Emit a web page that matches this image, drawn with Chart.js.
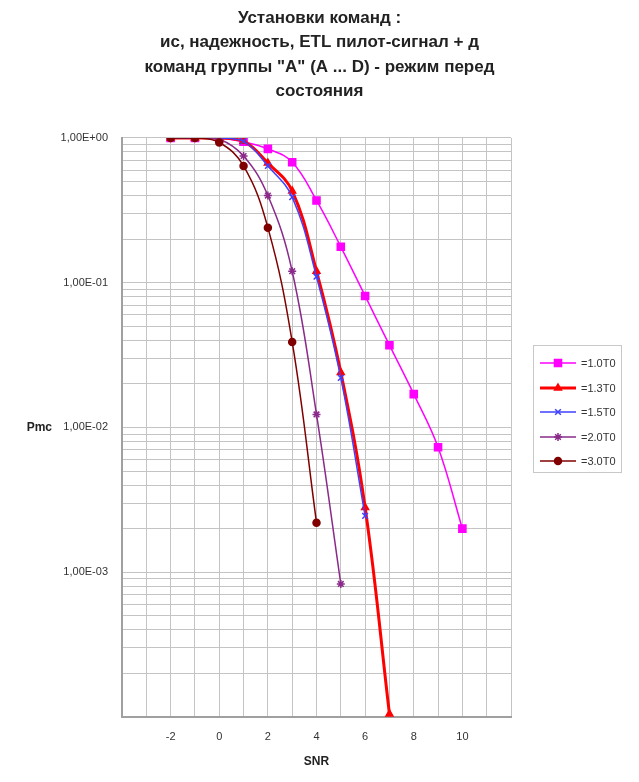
<!DOCTYPE html>
<html>
<head>
<meta charset="utf-8">
<script src="https://cdn.jsdelivr.net/npm/chart.js@4/dist/chart.umd.min.js"></script>
<style>
  body { margin: 0; background: #fff; }
  #wrap { position: relative; width: 639px; height: 782px; }
  #legend {
    position: absolute; left: 533px; top: 345px; width: 89px; height: 128px;
    border: 1px solid #c8c8c8; box-sizing: border-box;
    font: 11px "Liberation Sans", Arial, sans-serif; color: #333;
  }
  #legend .row { position: absolute; left: 5px; height: 12px; display: flex; align-items: center; }
  #legend canvas { margin-right: 4px; }
</style>
</head>
<body>
<div id="wrap">
  <canvas id="chart" width="639" height="782"></canvas>
  <div id="legend"></div>
</div>
<script>
// SNR values (x axis)
const snr = [-2, -1, 0, 1, 2, 3, 4, 5, 6, 7, 8, 9, 10]

// Pmc for each threshold
const pmc10 = [1, 1, 1, 0.94, 0.84, 0.68, 0.37, 0.177, 0.081, 0.037, 0.017, 0.0073, 0.0020]
const pmc13 = [1, 1, 1, 0.95, 0.67, 0.43, 0.12, 0.024, 0.0028, 0.000105]
const pmc15 = [1, 1, 1, 0.95, 0.64, 0.39, 0.11, 0.022, 0.00245]
const pmc20 = [1, 1, 0.98, 0.75, 0.40, 0.12, 0.0123, 0.00083]
const pmc30 = [1, 1, 0.93, 0.64, 0.24, 0.039, 0.0022]

const seriesNames = ["=1.0T0", "=1.3T0", "=1.5T0", "=2.0T0", "=3.0T0"]

// the title is wider than the chart in the original, only the middle shows
const titleLines = [
  "Установки команд :",
  "ис, надежность, ETL пилот-сигнал + д",
  "команд группы \"A\" (A ... D) - режим перед",
  "состояния"
]

// axis ticks
const xLabelled = [-2, 0, 2, 4, 6, 8, 10]
const yDecades = [1, 0.1, 0.01, 0.001]
const yDecadeLabels = ["1,00E+00", "1,00E-01", "1,00E-02", "1,00E-03"]

const FONT = "'Liberation Sans', Arial, sans-serif"

const styles = [
  { color: "#ff00ff", width: 1.5, pointStyle: "rect", radius: 5 },
  { color: "#ff0000", width: 3, pointStyle: "triangle", radius: 4 },
  { color: "#4040ff", width: 1.5, pointStyle: "crossRot", radius: 4 },
  { color: "#8a2a8a", width: 1.5, pointStyle: "star", radius: 4 },
  { color: "#800000", width: 1.5, pointStyle: "circle", radius: 3.5 }
]

const toPoints = ys => ys.map((y, i) => ({ x: snr[i], y }))

// later series on top, like Excel draws them
const datasets = [pmc10, pmc13, pmc15, pmc20, pmc30].map((ys, i) => ({
  label: seriesNames[i],
  data: toPoints(ys),
  order: 4 - i,
  borderColor: styles[i].color,
  backgroundColor: styles[i].color,
  borderWidth: styles[i].width,
  pointStyle: styles[i].pointStyle,
  pointRadius: styles[i].radius,
  pointBorderWidth: 1.5,
  tension: 0.4
}))

// "Pmc" label sits horizontally, left of the 1,00E-02 tick
const sideLabel = {
  id: "sideLabel",
  afterDraw(chart) {
    const { ctx } = chart
    const y = chart.scales.y.getPixelForValue(0.01)
    ctx.save()
    ctx.font = "bold 12px " + FONT
    ctx.fillStyle = "#222"
    ctx.textAlign = "right"
    ctx.textBaseline = "middle"
    ctx.fillText("Pmc", 52, y)
    ctx.restore()
  }
}

new Chart(document.getElementById("chart"), {
  type: "line",
  data: { datasets },
  plugins: [sideLabel],
  options: {
    responsive: false,
    animation: false,
    plugins: {
      legend: { display: false },
      tooltip: { enabled: false },
      title: {
        display: true,
        text: titleLines,
        color: "#222",
        font: { family: FONT, size: 17, weight: "bold", lineHeight: 1.44 },
        padding: { top: 6, bottom: 34 }
      }
    },
    scales: {
      x: {
        type: "linear",
        min: -4,
        max: 12,
        afterFit: s => { s.height = 65 },
        ticks: {
          stepSize: 1,
          autoSkip: false,
          maxRotation: 0,
          padding: 13,
          color: "#333",
          font: { family: FONT, size: 11 },
          callback: v => xLabelled.includes(v) ? String(v) : ""
        },
        grid: { color: "#c4c4c4", drawTicks: false },
        border: { color: "#a0a0a0", width: 2 },
        title: {
          display: true,
          text: "SNR",
          color: "#222",
          font: { family: FONT, size: 12, weight: "bold" },
          padding: { top: 0, bottom: 13 }
        }
      },
      y: {
        type: "logarithmic",
        min: 0.0001,
        max: 1,
        afterFit: s => { s.width = 122 },
        afterBuildTicks: s => {
          const ticks = []
          for (let e = -4; e < 0; e++) {
            for (let m = 1; m < 10; m++) ticks.push({ value: m * Math.pow(10, e) })
          }
          ticks.push({ value: 1 })
          s.ticks = ticks
        },
        ticks: {
          autoSkip: false,
          padding: 14,
          color: "#333",
          font: { family: FONT, size: 11 },
          callback: v => {
            const i = yDecades.findIndex(d => Math.abs(d - v) / d < 1e-6)
            return i >= 0 ? yDecadeLabels[i] : ""
          }
        },
        grid: { color: "#c4c4c4", drawTicks: false },
        border: { color: "#a0a0a0", width: 2 }
      },
      // empty box on the right, keeps room for the legend without shifting the title
      spacer: {
        type: "linear",
        position: "right",
        afterFit: s => { s.width = 128 },
        ticks: { display: false },
        grid: { display: false },
        border: { display: false }
      }
    }
  }
})

// legend box, Excel style: line with marker, then the name
const legend = document.getElementById("legend")
seriesNames.forEach((name, i) => {
  const row = document.createElement("div")
  row.className = "row"
  row.style.top = (11 + i * 24.5) + "px"
  const c = document.createElement("canvas")
  c.width = 38
  c.height = 12
  const g = c.getContext("2d")
  g.strokeStyle = styles[i].color
  g.lineWidth = styles[i].width
  g.beginPath()
  g.moveTo(1, 6)
  g.lineTo(37, 6)
  g.stroke()
  g.fillStyle = styles[i].color
  g.strokeStyle = styles[i].color
  g.lineWidth = 1.5
  Chart.helpers.drawPoint(g, { pointStyle: styles[i].pointStyle, radius: styles[i].radius, rotation: 0, borderWidth: 1.5 }, 19, 6)
  row.appendChild(c)
  const t = document.createElement("span")
  t.textContent = name
  row.appendChild(t)
  legend.appendChild(row)
})
</script>
</body>
</html>
